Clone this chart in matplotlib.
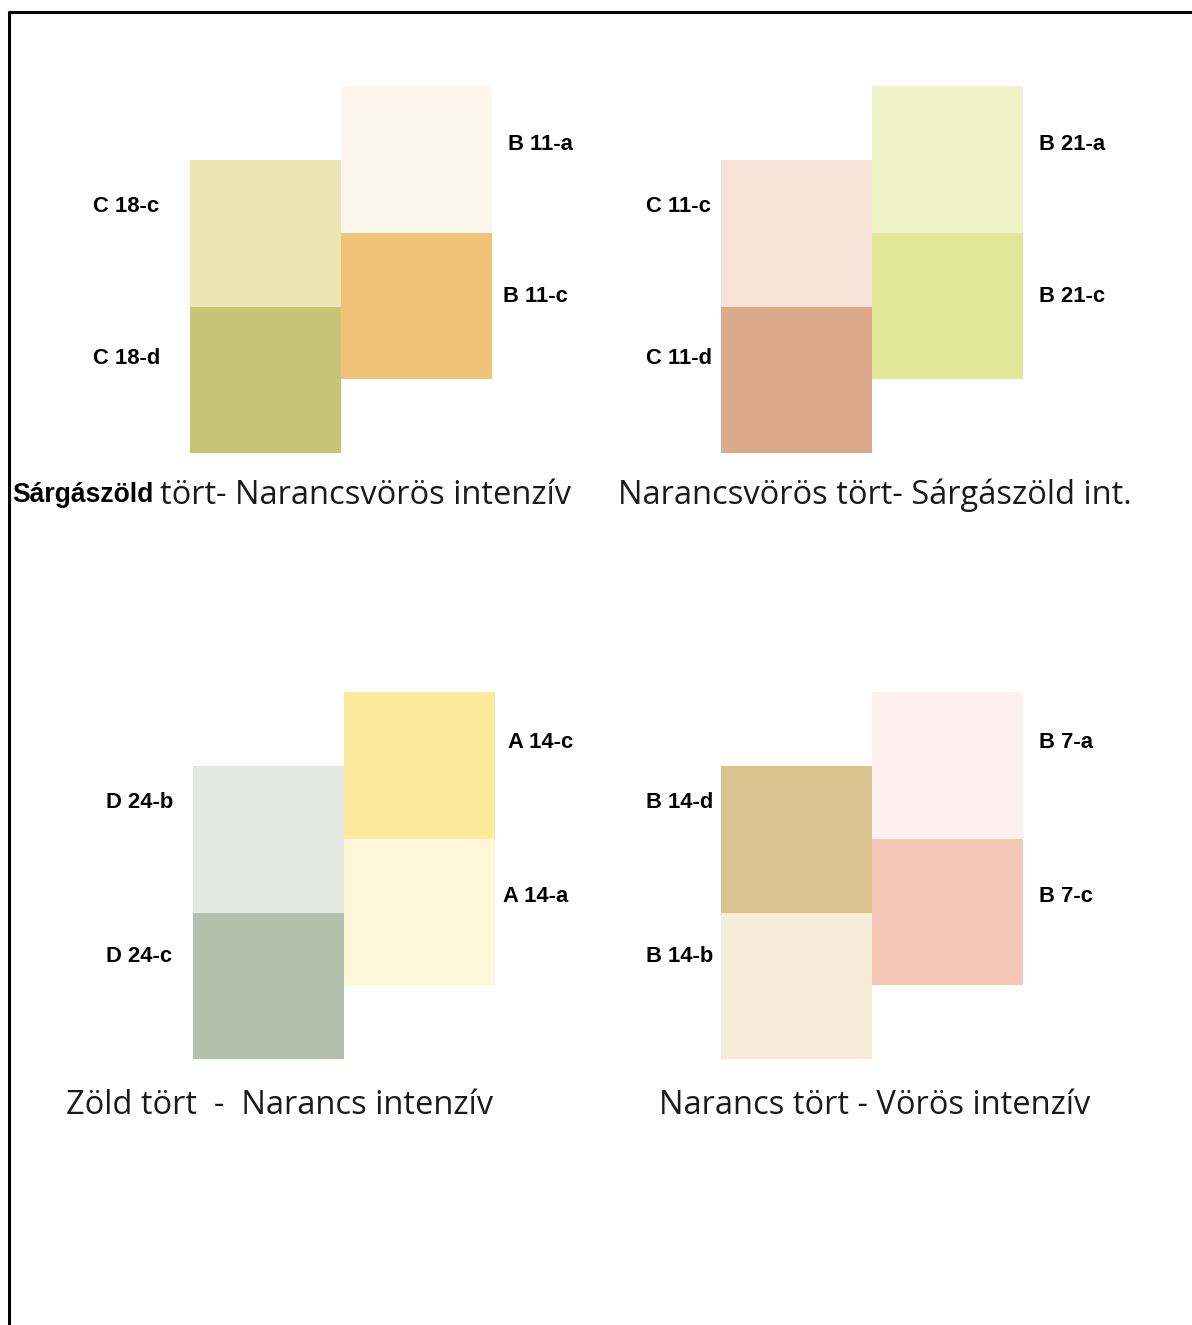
import matplotlib.pyplot as plt

# swatch names and colours, one entry per panel (TL, TR, BL, BR)
left_labels = [["C 18-c", "C 18-d"], ["C 11-c", "C 11-d"],
               ["D 24-b", "D 24-c"], ["B 14-d", "B 14-b"]]
left_colors = [["#ebe7b5", "#c6c577"], ["#f6e2d6", "#dbaa8a"],
               ["#e3e8e2", "#b1bfab"], ["#dbc48f", "#f6ecd8"]]
right_labels = [["B 11-a", "B 11-c"], ["B 21-a", "B 21-c"],
                ["A 14-c", "A 14-a"], ["B 7-a", "B 7-c"]]
right_colors = [["#fdf6ec", "#f0c378"], ["#eff5c8", "#e0e796"],
                ["#fde99b", "#fff8d8"], ["#fdf0ee", "#f6c6b4"]]
titles = ["tört- Narancsvörös intenzív",
          "Narancsvörös tört- Sárgászöld int.",
          "Zöld tört  -  Narancs intenzív",
          "Narancs tört - Vörös intenzív"]
title_bold = "Sárgászöld"

# layout in pixels
sw_w, sw_h = 151, 146.5
col_x = [190, 721, 193, 721]          # left column x
top_y = [86, 86, 692, 692]            # right column top
left_lab_x = [93, 646, 106, 646]
right_lab_x = [[508, 503], [1039, 1039], [508, 503], [1039, 1039]]
lab_dy = [[120, 273, 58, 211], [120, 273, 58, 211],
          [111, 264, 51, 204], [111, 264, 51, 204]]
title_x = [160, 618, 66, 659]
title_y = [495, 495, 1105, 1105]

fig = plt.figure(figsize=(11.92, 13.25), dpi=100)
ax = fig.add_axes([0, 0, 1, 1])
ax.set_xlim(0, 1192)
ax.set_ylim(1325, 0)
ax.axis("off")

lab_font = dict(family=["Liberation Sans", "DejaVu Sans"], fontweight="bold",
                fontsize=22 * 0.72, va="center", ha="left")
title_font = dict(family=["Open Sans", "DejaVu Sans"], fontsize=32.6 * 0.72,
                  va="center", ha="left", color="#1a1a1a")

for i in range(4):
    x0 = col_x[i]
    y0 = top_y[i]
    # left column sits half a swatch lower
    ax.bar([x0, x0], [sw_h, sw_h], width=sw_w, bottom=[y0 + 74, y0 + 74 + sw_h],
           color=left_colors[i], align="edge", linewidth=0)
    ax.bar([x0 + sw_w, x0 + sw_w], [sw_h, sw_h], width=sw_w,
           bottom=[y0, y0 + sw_h], color=right_colors[i], align="edge", linewidth=0)

    dy = lab_dy[i]
    ax.text(left_lab_x[i], y0 + dy[0], left_labels[i][0], **lab_font)
    ax.text(left_lab_x[i], y0 + dy[1], left_labels[i][1], **lab_font)
    ax.text(right_lab_x[i][0], y0 + dy[2], right_labels[i][0], **lab_font)
    ax.text(right_lab_x[i][1], y0 + dy[3], right_labels[i][1], **lab_font)

    ax.text(title_x[i], title_y[i], titles[i], **title_font)

ax.text(12, title_y[0], title_bold, family=["Liberation Sans", "DejaVu Sans"],
        fontweight="bold", fontsize=26.5 * 0.72, va="center", ha="left")

# frame: top and left edges only are visible
ax.plot([8, 1192], [12, 12], color="black", lw=2.2, solid_capstyle="butt")
ax.plot([9, 9], [11, 1325], color="black", lw=2.2, solid_capstyle="butt")

plt.savefig("out.png", dpi=100)
